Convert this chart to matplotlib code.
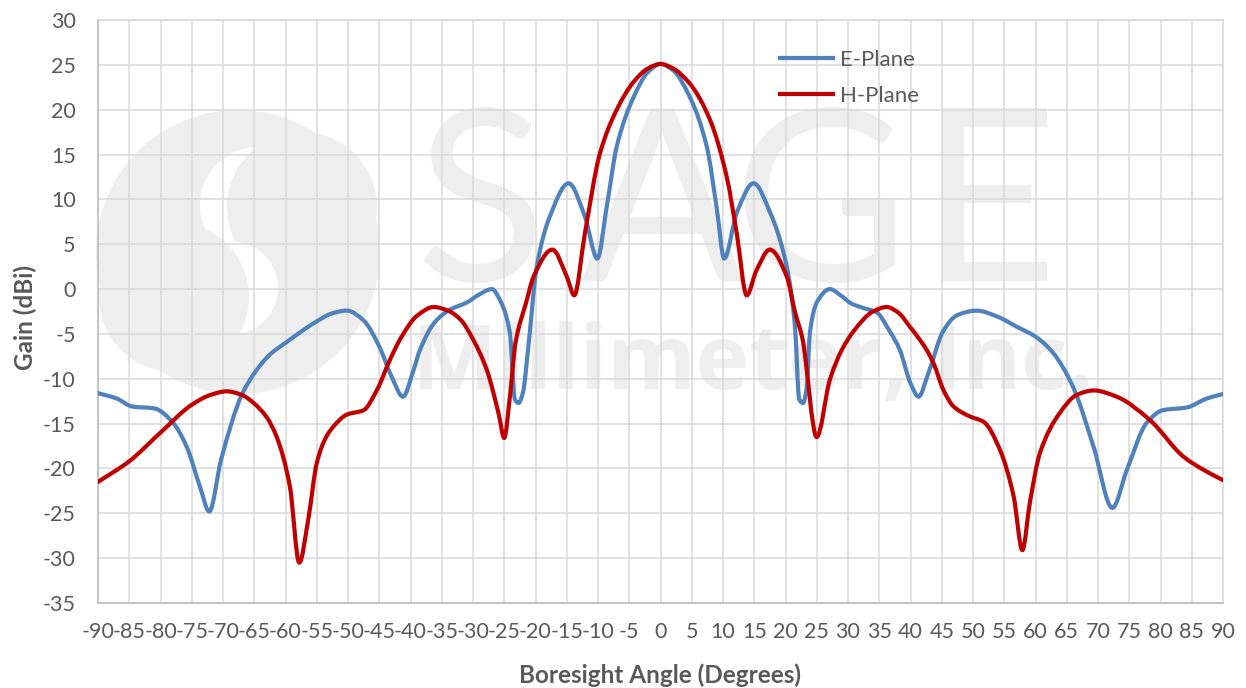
import numpy as np
import matplotlib.pyplot as plt
from matplotlib.path import Path
from matplotlib.patches import PathPatch, Circle
from matplotlib.lines import Line2D

# E-plane cut: angle (deg) / gain (dBi)
e_angle = [-90, -87, -84.5, -81, -78, -75.8, -73.7, -72.2, -70.3, -67, -65, -62.5, -60,
           -55, -52.5, -50.2, -47.5, -45, -43, -41.2, -39.5, -38.5, -36, -33.7, -31, -29,
           -27, -25.5, -24.1, -23.3, -22.7, -22.0, -21.2, -19.8, -17.7, -14.7, -12.1, -10.1,
           -8.6, -7, -4.3, -2, 0, 2, 4.7, 7.4, 9.0, 10.2, 12.2, 14.9, 17.5, 20.2, 21.5,
           22.2, 22.8, 23.4, 23.9, 25, 27.1, 29, 30.5, 32.4, 34.6, 36.5, 38.3, 40, 41.3,
           42.8, 45.3, 47.5, 50.6, 54, 57, 60, 62.8, 66, 69.3, 72.3, 74.6, 77.8, 80.4,
           84.2, 87.4, 90]
e_gain = [-11.6, -12.2, -13.1, -13.3, -14.9, -17.6, -22.0, -24.8, -19.0, -11.8, -9.4, -7.3, -6.0,
          -3.6, -2.7, -2.4, -3.5, -6.4, -9.8, -12.0, -9.0, -6.8, -3.6, -2.3, -1.5, -0.6,
          0.0, -1.5, -4.9, -12.3, -12.7, -11.5, -6.8, 2.5, 8.1, 11.8, 8.1, 3.4,
          9.2, 15.9, 21.4, 24.2, 25.1, 24.4, 21.4, 15.9, 9.0, 3.4, 8.5, 11.8, 8.6, 2.5, -4.0,
          -12.3, -12.7, -11.0, -4.9, -1.5, 0.0, -0.8, -1.6, -2.1, -2.6, -4.5, -6.8, -10.5, -12.0,
          -9.5, -4.6, -2.9, -2.4, -3.1, -4.2, -5.3, -7.1, -10.9, -17.6, -24.4, -20.2, -14.9, -13.5,
          -13.2, -12.2, -11.7]

# H-plane cut
h_angle = [-90, -85, -80, -75, -72, -69.4, -67, -65.1, -63, -61.4, -59.3, -57.8, -56.3,
           -55, -53.5, -52.3, -50.2, -47.5, -45.4, -43.3, -41.5, -39, -36.3, -34, -32,
           -30, -27.8, -25.9, -25, -24.1, -23.2, -21.5, -20.3, -17.3, -15, -13.8, -12.1,
           -9.7, -7, -4.3, -2, 0, 2, 4.7, 7.9, 10.6, 12.2, 13.8, 15.3, 17.5, 20.2, 21.5,
           22.7, 25, 27.1, 29, 31, 34, 36.2, 38, 39.9, 42.6, 43.7, 45.3, 46.9, 49.5, 51.7,
           54.3, 56.5, 57.9, 59.1, 60.7, 63.9, 66.6, 69.3, 73, 78.3, 83.7, 87, 90]
h_gain = [-21.5, -19.2, -16.0, -12.9, -11.8, -11.4, -11.8, -12.7, -14.3, -16.5, -22.0, -30.5, -25.4,
          -19.4, -16.5, -15.3, -14.0, -13.5, -11.3, -7.9, -5.4, -3.0, -2.0, -2.4, -3.4,
          -5.6, -9.0, -13.9, -16.6, -12.0, -6.0, -1.5, 1.4, 4.4, 1.4, -0.7, 6.2,
          15.1, 20.0, 23.1, 24.6, 25.1, 24.6, 22.9, 18.9, 12.5, 6.2, -0.7, 2.0, 4.4, 1.4, -2.5,
          -5.5, -16.5, -10.1, -6.8, -4.6, -2.5, -2.0, -2.6, -4.2, -6.8, -8.3, -11.3, -13.1, -14.2, -14.8,
          -17.9, -23.1, -29.1, -23.8, -18.3, -13.8, -11.8, -11.3, -12.0, -14.6, -18.7, -20.2, -21.3]

x_ticks = list(range(-90, 91, 5))
y_ticks = list(range(-35, 31, 5))

blue = '#4f81bd'
red = '#c00000'
text_gray = '#595959'
grid_gray = '#d9d9d9'
mark_gray = '#eeeeee'

plt.rcParams['font.family'] = ['Lato', 'DejaVu Sans']
plt.rcParams['axes.unicode_minus'] = False


def smooth_path(xs, ys):
    # cubic bezier pieces with monotone (Fritsch-Carlson) tangents
    x = np.asarray(xs, float)
    y = np.asarray(ys, float)
    h = np.diff(x)
    d = np.diff(y) / h
    m = np.zeros_like(x)
    m[0], m[-1] = d[0], d[-1]
    for i in range(1, len(x) - 1):
        if d[i - 1] * d[i] <= 0:
            m[i] = 0.0
        else:
            w1 = 2 * h[i] + h[i - 1]
            w2 = h[i] + 2 * h[i - 1]
            m[i] = (w1 + w2) / (w1 / d[i - 1] + w2 / d[i])
    verts = [(x[0], y[0])]
    codes = [Path.MOVETO]
    for i in range(len(x) - 1):
        verts += [(x[i] + h[i] / 3, y[i] + m[i] * h[i] / 3),
                  (x[i + 1] - h[i] / 3, y[i + 1] - m[i + 1] * h[i] / 3),
                  (x[i + 1], y[i + 1])]
        codes += [Path.CURVE4] * 3
    return Path(verts, codes)


W, H = 1246, 688
fig = plt.figure(figsize=(W / 100, H / 100), dpi=100)
fig.patch.set_facecolor('white')


def px(x, y):
    # pixel position (from top-left) -> figure fraction
    return x / W, 1 - y / H


# background logo
def disc(cx, cy, r, color):
    c = Circle((cx / 100, (H - cy) / 100), r / 100, transform=fig.dpi_scale_trans,
               facecolor=color, edgecolor='none', zorder=-10)
    fig.patches.append(c)


disc(238, 252, 142, mark_gray)
disc(258, 205, 58, 'white')
disc(302, 207, 75, mark_gray)
disc(232, 288, 46, 'white')
disc(174, 297, 75, mark_gray)

for letter, cx in zip('SAGE', [480, 662, 820, 988]):
    fig.text(*px(cx, 281), letter, fontsize=173, color=mark_gray, ha='center',
             va='baseline', zorder=-10)
fig.text(*px(412, 389), 'Millimeter, Inc.', fontsize=65, fontweight='bold',
         family=['Open Sans', 'DejaVu Sans'], color=mark_gray, ha='left',
         va='baseline', zorder=-10)

ax = fig.add_axes([98 / W, 85 / H, 1125 / W, 583 / H])
ax.set_facecolor('none')
ax.set_xlim(-90, 90)
ax.set_ylim(-35, 30)
ax.set_xticks(x_ticks)
ax.set_yticks(y_ticks)
ax.grid(True, color=grid_gray, linewidth=1.1)
ax.set_axisbelow(True)
ax.tick_params(length=0, labelsize=15.5, colors=text_gray)
ax.tick_params(axis='x', pad=14)
ax.tick_params(axis='y', pad=16)
for side in ['top', 'right']:
    ax.spines[side].set_color(grid_gray)
    ax.spines[side].set_linewidth(1.1)
for side in ['left', 'bottom']:
    ax.spines[side].set_color('#bfbfbf')
    ax.spines[side].set_linewidth(1.3)

ax.add_patch(PathPatch(smooth_path(e_angle, e_gain), fill=False, edgecolor=blue,
                       linewidth=3, capstyle='round', joinstyle='round', zorder=3))
ax.add_patch(PathPatch(smooth_path(h_angle, h_gain), fill=False, edgecolor=red,
                       linewidth=3, capstyle='round', joinstyle='round', zorder=4))

handles = [Line2D([], [], color=blue, linewidth=3), Line2D([], [], color=red, linewidth=3)]
leg = ax.legend(handles, ['E-Plane', 'H-Plane'], loc='upper left',
                bbox_to_anchor=px(780, 50), bbox_transform=fig.transFigure,
                frameon=False, fontsize=16, handlelength=2.4, handletextpad=0.3,
                labelspacing=0.72, borderpad=0, borderaxespad=0)
for t in leg.get_texts():
    t.set_color(text_gray)

fig.text(*px(660, 675), 'Boresight Angle (Degrees)', fontsize=17.5, fontweight='bold',
         color=text_gray, ha='center', va='center')
fig.text(*px(25, 317), 'Gain (dBi)', fontsize=17.5, fontweight='bold', color=text_gray,
         ha='center', va='center', rotation=90)

fig.savefig('out.png', dpi=100)
